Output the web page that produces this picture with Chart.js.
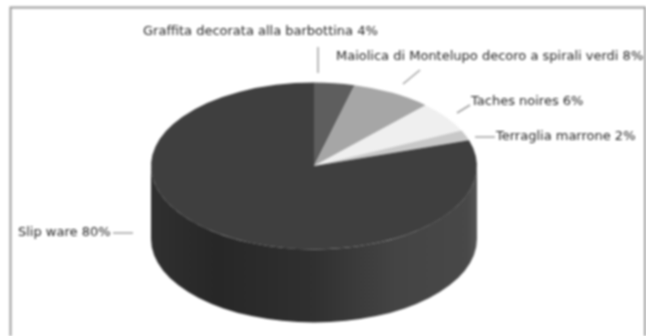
<!DOCTYPE html>
<html>
<head>
<meta charset="utf-8">
<style>
  html, body { margin: 0; padding: 0; background: #fff; }
  canvas { display: block; filter: blur(0.9px); }
</style>
<script src="https://cdn.jsdelivr.net/npm/chart.js@4"></script>
</head>
<body>
<canvas id="pieChart" width="646" height="336"></canvas>
<script>
const categories = [
  "Graffita decorata alla barbottina",
  "Maiolica di Montelupo decoro a spirali verdi",
  "Taches noires",
  "Terraglia marrone",
  "Slip ware",
];
const shares = [4, 8, 6, 2, 80];
const sliceColors = ["#5e5e5e", "#a6a6a6", "#efefef", "#c8c8c8", "#3f3f3f"];

// squash factor and rim height of the fake 3d pie
const tilt = 0.512;
const depth = 73;

// text anchor and leader line of each label, same order as categories
const labelPlaces = [
  { x: 143, y: 32, line: [318, 47, 318, 73] },
  { x: 336, y: 57, line: [420, 70, 403, 84] },
  { x: 471, y: 102, line: [470, 105, 457, 113] },
  { x: 496, y: 137, line: [475, 137, 495, 137] },
  { x: 18, y: 233, line: [113, 233, 133, 233] },
];

function sideGradient(ctx, cx, r) {
  const g = ctx.createLinearGradient(cx - r, 0, cx + r, 0);
  g.addColorStop(0, "#303030");
  g.addColorStop(0.2, "#272727");
  g.addColorStop(0.5, "#303030");
  g.addColorStop(0.75, "#444444");
  g.addColorStop(0.97, "#484848");
  g.addColorStop(1, "#555555");
  return g;
}

const flatPie = {
  id: "flatPie",
  beforeDatasetsDraw(chart) {
    const ctx = chart.ctx;
    const arc = chart.getDatasetMeta(0).data[0];
    const cx = arc.x, cy = arc.y, r = arc.outerRadius;
    // rim of the disc
    ctx.save();
    ctx.fillStyle = sideGradient(ctx, cx, r);
    ctx.beginPath();
    ctx.ellipse(cx, cy, r, r * tilt, 0, 0, Math.PI);
    ctx.lineTo(cx - r, cy + depth);
    ctx.ellipse(cx, cy + depth, r, r * tilt, 0, Math.PI, 0, true);
    ctx.closePath();
    ctx.fill();
    ctx.restore();
    // squash the slices into an ellipse
    ctx.save();
    ctx.translate(0, cy);
    ctx.scale(1, tilt);
    ctx.translate(0, -cy);
  },
  afterDatasetsDraw(chart) {
    chart.ctx.restore();
  },
  afterDraw(chart) {
    const ctx = chart.ctx;
    ctx.save();
    // frame runs off the bottom of the picture
    ctx.strokeStyle = "#9c9c9c";
    ctx.lineWidth = 2;
    ctx.beginPath();
    ctx.moveTo(10.5, 336);
    ctx.lineTo(10.5, 7.5);
    ctx.lineTo(645, 7.5);
    ctx.lineTo(645, 336);
    ctx.stroke();
    ctx.lineWidth = 1.5;
    ctx.font = "13px 'DejaVu Sans'";
    ctx.textBaseline = "middle";
    labelPlaces.forEach((p, i) => {
      ctx.fillStyle = "#262626";
      ctx.fillText(categories[i] + " " + shares[i] + "%", p.x, p.y);
      ctx.strokeStyle = "#a0a0a0";
      ctx.beginPath();
      ctx.moveTo(p.line[0], p.line[1]);
      ctx.lineTo(p.line[2], p.line[3]);
      ctx.stroke();
    });
    ctx.restore();
  },
};

new Chart(document.getElementById("pieChart"), {
  type: "pie",
  data: {
    labels: categories,
    datasets: [
      {
        data: shares,
        backgroundColor: sliceColors,
        borderWidth: 0,
      },
    ],
  },
  options: {
    responsive: false,
    animation: false,
    layout: { padding: { left: 151, right: 169, top: 3, bottom: 7 } },
    plugins: {
      legend: { display: false },
      tooltip: { enabled: false },
    },
  },
  plugins: [flatPie],
});
</script>
</body>
</html>
